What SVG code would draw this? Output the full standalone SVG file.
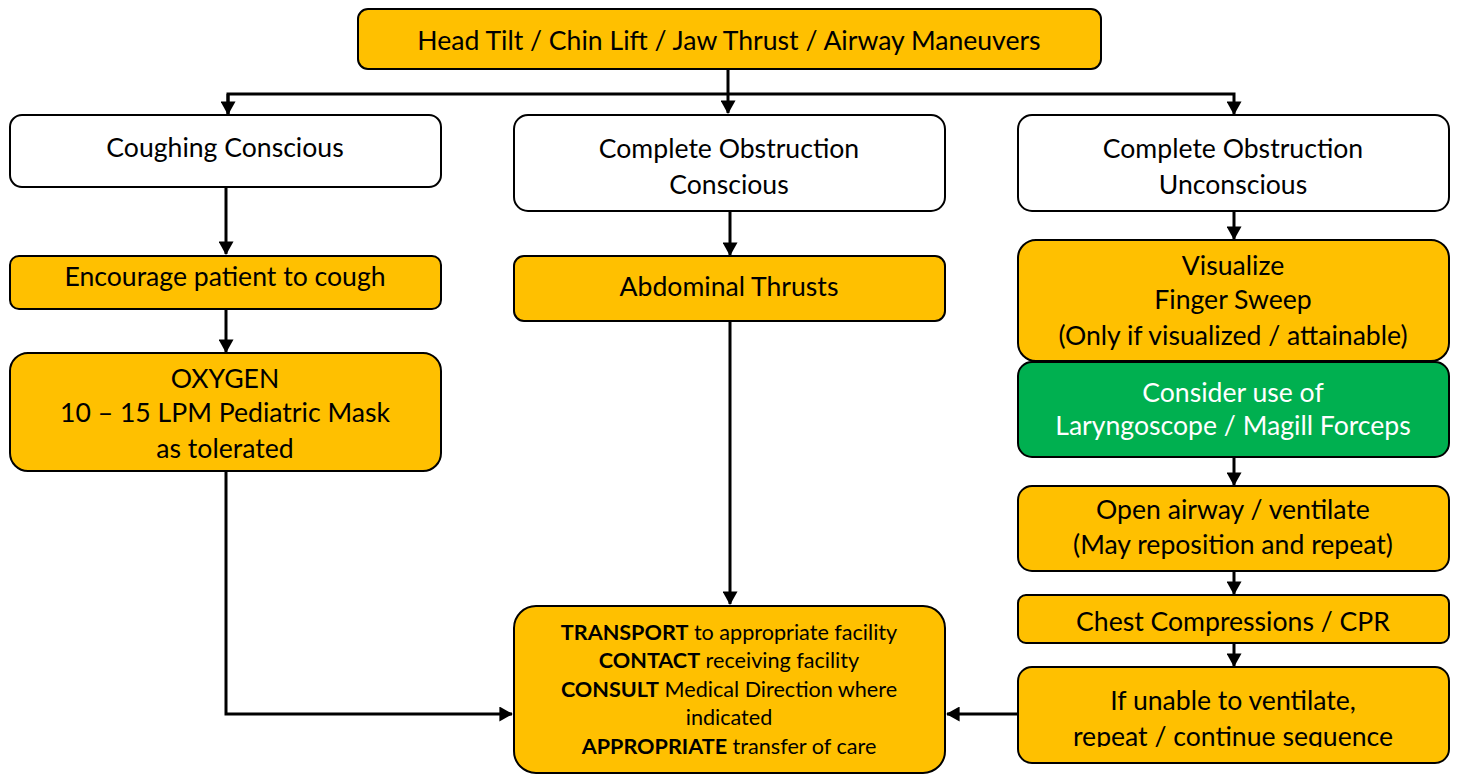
<svg xmlns="http://www.w3.org/2000/svg" width="1458" height="774" viewBox="0 0 1458 774">
<style>
.y{fill:#FFC000;stroke:#000;stroke-width:2}
.w{fill:#fff;stroke:#000;stroke-width:2}
.g{fill:#00B050;stroke:#000;stroke-width:2}
text{font-family:Lato,"Open Sans",sans-serif;font-size:26.6px;fill:#000;text-anchor:middle}
.s{font-size:21.6px}
.b{font-weight:bold}
.wt{fill:#fff}
.c{fill:none;stroke:#000;stroke-width:3}
</style>
<defs>
<marker id="a" markerWidth="5" markerHeight="5" refX="4.2" refY="2.5" orient="auto" markerUnits="strokeWidth">
<path d="M0,0 L4.5,2.5 L0,5 Z" fill="#000"/>
</marker>
<clipPath id="cl"><rect x="1018" y="667" width="431" height="80"/></clipPath>
</defs>
<g id="connectors">
<path class="c" d="M728,69 V113" marker-end="url(#a)"/>
<path class="c" d="M228,114 V94 H1234 V114" marker-end="url(#a)"/>
<path class="c" d="M228,94 V114" marker-end="url(#a)"/>
<path class="c" d="M226,187 V254" marker-end="url(#a)"/>
<path class="c" d="M226,309 V352" marker-end="url(#a)"/>
<path class="c" d="M730,211 V255" marker-end="url(#a)"/>
<path class="c" d="M730,321 V604" marker-end="url(#a)"/>
<path class="c" d="M226,471 V714 H512" marker-end="url(#a)"/>
<path class="c" d="M1018,714 H947" marker-end="url(#a)"/>
<path class="c" d="M1234,211 V239" marker-end="url(#a)"/>
<path class="c" d="M1234,457 V485" marker-end="url(#a)"/>
<path class="c" d="M1234,571 V594" marker-end="url(#a)"/>
<path class="c" d="M1234,643 V666" marker-end="url(#a)"/>
</g>
<g id="top"><rect class="y" x="358" y="9" width="743" height="60" rx="10"/><text x="729" y="50">Head Tilt / Chin Lift / Jaw Thrust / Airway Maneuvers</text></g>
<g id="coughing"><rect class="w" x="10" y="115" width="431" height="72" rx="12"/><text x="225" y="157">Coughing Conscious</text></g>
<g id="obs-conscious"><rect class="w" x="514" y="115" width="431" height="96" rx="14"/><text x="729" y="158">Complete Obstruction</text><text x="729" y="194">Conscious</text></g>
<g id="obs-unconscious"><rect class="w" x="1018" y="115" width="431" height="96" rx="14"/><text x="1233" y="158">Complete Obstruction</text><text x="1233" y="194">Unconscious</text></g>
<g id="encourage"><rect class="y" x="10" y="256" width="431" height="53" rx="9"/><text x="225" y="286">Encourage patient to cough</text></g>
<g id="oxygen"><rect class="y" x="10" y="353" width="431" height="118" rx="18"/><text x="225" y="388">OXYGEN</text><text x="225" y="422">10 – 15 LPM Pediatric Mask</text><text x="225" y="458">as tolerated</text></g>
<g id="abdominal"><rect class="y" x="514" y="256" width="431" height="65" rx="10"/><text x="729" y="296">Abdominal Thrusts</text></g>
<g id="visualize"><rect class="y" x="1018" y="240" width="431" height="121" rx="18"/><text x="1233" y="275">Visualize</text><text x="1233" y="309">Finger Sweep</text><text x="1233" y="345">(Only if visualized / attainable)</text></g>
<g id="consider"><rect class="g" x="1018" y="362" width="431" height="95" rx="14"/><text class="wt" x="1233" y="402">Consider use of</text><text class="wt" x="1233" y="435">Laryngoscope / Magill Forceps</text></g>
<g id="open-airway"><rect class="y" x="1018" y="486" width="431" height="85" rx="14"/><text x="1233" y="519">Open airway / ventilate</text><text x="1233" y="554">(May reposition and repeat)</text></g>
<g id="chest"><rect class="y" x="1018" y="595" width="431" height="48" rx="8"/><text x="1233" y="631">Chest Compressions / CPR</text></g>
<g id="unable"><rect class="y" x="1018" y="667" width="431" height="96" rx="14"/><text x="1233" y="710">If unable to ventilate,</text><text x="1233" y="746" clip-path="url(#cl)">repeat / continue sequence</text></g>
<g id="transport"><rect class="y" x="514" y="606" width="431" height="167" rx="22"/>
<text class="s" x="729" y="640"><tspan class="b">TRANSPORT</tspan> to appropriate facility</text>
<text class="s" x="729" y="668"><tspan class="b">CONTACT</tspan> receiving facility</text>
<text class="s" x="729" y="697"><tspan class="b">CONSULT</tspan> Medical Direction where</text>
<text class="s" x="729" y="725">indicated</text>
<text class="s" x="729" y="754"><tspan class="b">APPROPRIATE</tspan> transfer of care</text>
</g>
</svg>
